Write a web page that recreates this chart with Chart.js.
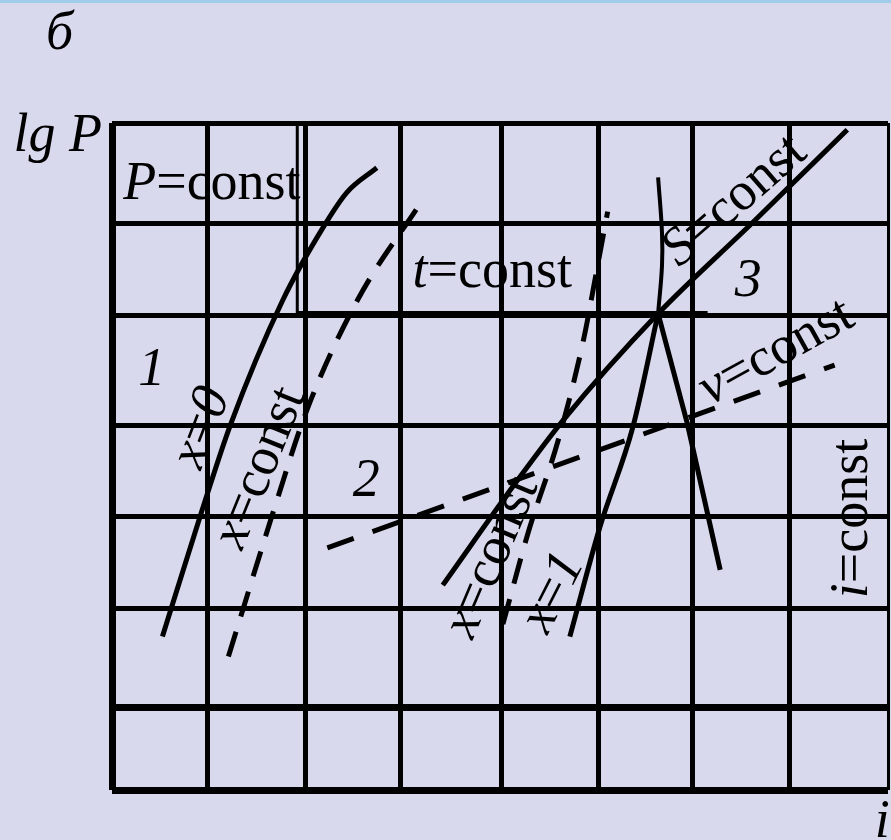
<!DOCTYPE html>
<html>
<head>
<meta charset="utf-8">
<title>lg P – i</title>
<script src="https://cdn.jsdelivr.net/npm/chart.js@4.4.1/dist/chart.umd.min.js"></script>
<style>
  html, body { margin: 0; padding: 0; background: #d9d9ed; }
  canvas { display: block; }
</style>
</head>
<body>
<canvas id="diagram" width="891" height="840"></canvas>
<script>
/* ── lg P – i diagram: grid, saturation curves, isolines ───── */

// grid lines (i along x, lg P along y)
const X_GRID = [0, 0.98, 1.99, 2.97, 4.02, 5.02, 5.98, 6.98, 8];
const Y_GRID = [0, 0.87, 1.91, 2.87, 3.83, 4.98, 5.95, 7];

// x = 0, saturated liquid
const LIQUID_I   = [0.52, 0.93, 1.22, 1.76, 2.18, 2.42, 2.73];
const LIQUID_LGP = [1.61, 2.94, 3.83, 5.14, 5.91, 6.27, 6.53];

// x = const, wet region (left and right)
const QLOW_I    = [1.20, 1.70, 2.01, 2.53, 3.18];
const QLOW_LGP  = [1.40, 3.04, 3.99, 5.14, 6.16];
const QHIGH_I   = [4.03, 4.29, 4.60, 4.86, 5.00, 5.11];
const QHIGH_LGP = [1.74, 2.70, 3.67, 4.72, 5.47, 6.07];

// x = 1, saturated vapour
const VAPOUR_I   = [4.72, 5.03, 5.37, 5.63];
const VAPOUR_LGP = [1.61, 2.76, 3.81, 5.00];

// s = const
const ENTROPY_I   = [3.41, 4.18, 4.65, 5.63, 6.60, 7.58];
const ENTROPY_LGP = [2.15, 3.25, 3.88, 5.00, 5.95, 6.93];

// isotherm through the critical point
const TUPPER_I   = [5.63, 5.67, 5.67, 5.63];
const TUPPER_LGP = [5.00, 5.50, 5.85, 6.43];
const TLOWER_I   = [5.63, 5.93, 6.27];
const TLOWER_LGP = [5.00, 3.85, 2.31];

// v = const
const VOLUME_I   = [2.22, 7.45];
const VOLUME_LGP = [2.54, 4.46];

// t = const (vertical leg and two-phase plateau)
const TVERT_I   = [1.91, 1.91];
const TVERT_LGP = [7.00, 4.99];
const THOR_I    = [1.91, 6.14];
const THOR_LGP  = [4.99, 4.99];

// captions: parts as [text, italic], anchor in (i, lg P), angle in degrees
const LABELS = [
  { parts: [['б', 1]],                   i: -0.54, lgP: 7.93, angle: 0 },
  { parts: [['lg P', 1]],                i: -0.56, lgP: 6.85, angle: 0 },
  { parts: [['P', 1], ['=const', 0]],    i: 1.03,  lgP: 6.35, angle: 0 },
  { parts: [['t', 1], ['=const', 0]],    i: 3.92,  lgP: 5.43, angle: 0 },
  { parts: [['1', 1]],                   i: 0.41,  lgP: 4.40, angle: 0 },
  { parts: [['2', 1]],                   i: 2.62,  lgP: 3.23, angle: 0 },
  { parts: [['3', 1]],                   i: 6.56,  lgP: 5.33, angle: 0 },
  { parts: [['x', 1], ['=', 0], ['0', 1]], i: 0.93, lgP: 3.80, angle: -69 },
  { parts: [['x', 1], ['=const', 0]],    i: 1.53,  lgP: 3.38, angle: -68 },
  { parts: [['x', 1], ['=const', 0]],    i: 3.92,  lgP: 2.44, angle: -67 },
  { parts: [['x', 1], ['=', 0], ['1', 1]], i: 4.55, lgP: 2.07, angle: -63 },
  { parts: [['v', 1], ['=const', 0]],    i: 6.85,  lgP: 4.59, angle: -29 },
  { parts: [['S', 1], ['=const', 0]],    i: 6.42,  lgP: 6.18, angle: -41 },
  { parts: [['i', 1], ['=const', 0]],    i: 7.64,  lgP: 2.85, angle: -90 },
  { parts: [['i', 1]],                   i: 7.94,  lgP: -0.34, angle: 0 },
];

const SERIF = '"Liberation Serif", "DejaVu Serif", serif';
const FONT_SIZE = 54;

function pts(xs, ys) {
  return xs.map((x, k) => ({ x, y: ys[k] }));
}

// smooth curves use monotone interpolation along i
function line(xs, ys, extra) {
  return Object.assign({
    data: pts(xs, ys),
    showLine: true,
    borderColor: '#000',
    borderWidth: 5,
    pointRadius: 0,
    borderCapStyle: 'butt',
    cubicInterpolationMode: 'monotone',
    fill: false,
  }, extra || {});
}

const backdrop = {
  id: 'backdrop',
  beforeDraw(chart) {
    const { ctx, width, height } = chart;
    ctx.save();
    ctx.fillStyle = '#d9d9ed';
    ctx.fillRect(0, 0, width, height);
    ctx.fillStyle = '#a2cdea';
    ctx.fillRect(0, 0, width, 3);
    ctx.restore();
  },
};

const captions = {
  id: 'captions',
  afterDraw(chart) {
    const { ctx } = chart;
    const xs = chart.scales.x, ys = chart.scales.y;
    ctx.save();
    ctx.fillStyle = '#000';
    ctx.textBaseline = 'middle';
    ctx.textAlign = 'left';
    LABELS.forEach(lb => {
      const widths = lb.parts.map(([t, it]) => {
        ctx.font = `${it ? 'italic ' : ''}${FONT_SIZE}px ${SERIF}`;
        return ctx.measureText(t).width;
      });
      const total = widths.reduce((a, b) => a + b, 0);
      ctx.save();
      ctx.translate(xs.getPixelForValue(lb.i), ys.getPixelForValue(lb.lgP));
      ctx.rotate(lb.angle * Math.PI / 180);
      let cx = -total / 2;
      lb.parts.forEach(([t, it], k) => {
        ctx.font = `${it ? 'italic ' : ''}${FONT_SIZE}px ${SERIF}`;
        ctx.fillText(t, cx, 0);
        cx += widths[k];
      });
      ctx.restore();
    });
    ctx.restore();
  },
};

function gridAxis(values, min, max, widthAt) {
  return {
    type: 'linear',
    min, max,
    afterBuildTicks: scale => { scale.ticks = values.map(v => ({ value: v })); },
    ticks: { display: false },
    border: { display: false },
    grid: {
      color: '#000',
      drawTicks: false,
      lineWidth: ctx => widthAt(ctx.index),
    },
  };
}

new Chart(document.getElementById('diagram'), {
  type: 'scatter',
  data: {
    datasets: [
      line(LIQUID_I, LIQUID_LGP),
      line(QLOW_I, QLOW_LGP, { borderDash: [26, 16] }),
      line(QHIGH_I, QHIGH_LGP, { borderDash: [26, 16] }),
      line(VAPOUR_I, VAPOUR_LGP),
      line(ENTROPY_I, ENTROPY_LGP),
      line(TUPPER_I, TUPPER_LGP, { borderWidth: 4, cubicInterpolationMode: 'default', tension: 0.4 }),
      line(TLOWER_I, TLOWER_LGP, { cubicInterpolationMode: 'default', tension: 0 }),
      line(VOLUME_I, VOLUME_LGP, { borderDash: [28, 20], cubicInterpolationMode: 'default', tension: 0 }),
      line(TVERT_I, TVERT_LGP, { borderWidth: 3, cubicInterpolationMode: 'default', tension: 0 }),
      line(THOR_I, THOR_LGP, { borderWidth: 7, cubicInterpolationMode: 'default', tension: 0 }),
    ],
  },
  options: {
    responsive: false,
    animation: false,
    devicePixelRatio: 1,
    layout: { padding: { left: 112, right: 3, top: 123, bottom: 50 } },
    plugins: {
      legend: { display: false },
      tooltip: { enabled: false },
    },
    scales: {
      x: gridAxis(X_GRID, 0, 8, k => (k === 0 ? 7 : k === X_GRID.length - 1 ? 3 : 5)),
      y: gridAxis(Y_GRID, 0, 7, k => (k <= 1 ? 7 : 5)),
    },
  },
  plugins: [backdrop, captions],
});
</script>
</body>
</html>
